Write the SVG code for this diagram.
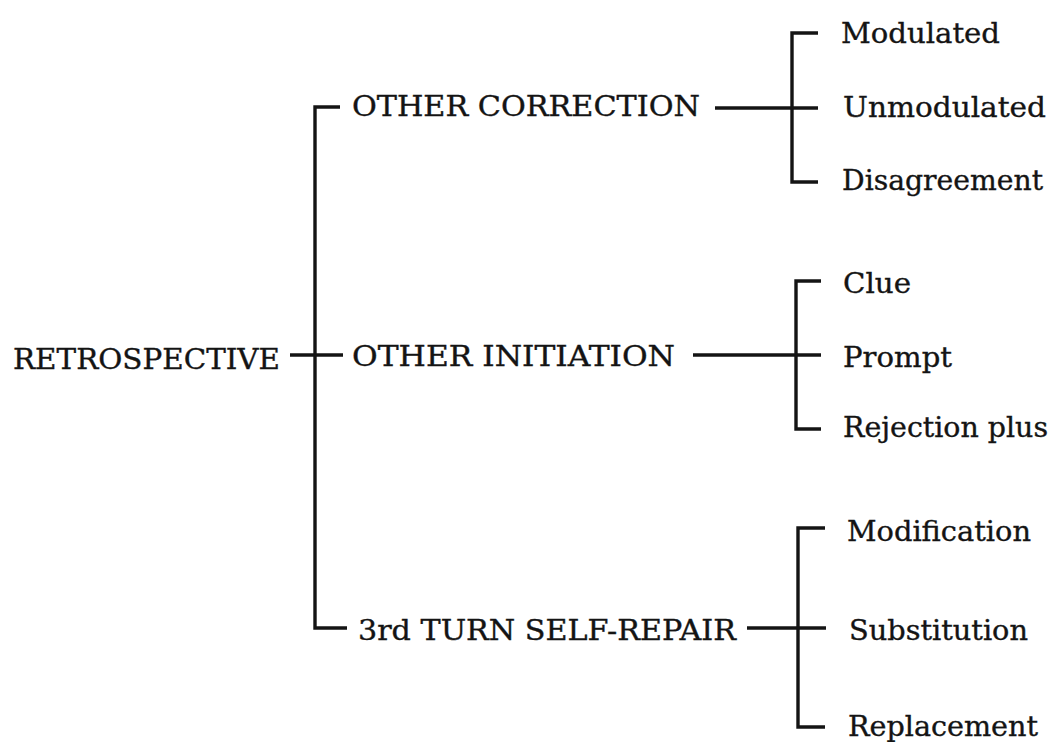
<svg xmlns="http://www.w3.org/2000/svg" width="1056" height="742" viewBox="0 0 1056 742">
<style>
text{font-family:"DejaVu Serif","Liberation Serif",serif;font-size:27.5px;fill:#141414;stroke:#141414;stroke-width:0.35}
.c{fill:none;stroke:#141414;stroke-width:3.4;stroke-linecap:butt;stroke-linejoin:miter}
</style>
<rect width="1056" height="742" fill="#fff"/>
<g id="connectors">
<path class="c" d="M340,107 H315 V628 H347"/>
<path class="c" d="M290,355 H343"/>
<path class="c" d="M715,108 H818"/>
<path class="c" d="M818,33 H792 V182 H818"/>
<path class="c" d="M693,355 H821"/>
<path class="c" d="M821,281 H796 V429 H821"/>
<path class="c" d="M747,628 H826"/>
<path class="c" d="M825,528 H798 V727 H825"/>
</g>
<g id="retrospective"><text x="13" y="369" textLength="267" lengthAdjust="spacingAndGlyphs">RETROSPECTIVE</text></g>
<g id="other-correction"><text x="352" y="116" textLength="348" lengthAdjust="spacingAndGlyphs">OTHER CORRECTION</text></g>
<g id="other-initiation"><text x="352" y="366" textLength="323" lengthAdjust="spacingAndGlyphs">OTHER INITIATION</text></g>
<g id="third-turn"><text x="358" y="640" textLength="378" lengthAdjust="spacingAndGlyphs">3rd TURN SELF-REPAIR</text></g>
<g id="modulated"><text x="841" y="43" textLength="159" lengthAdjust="spacingAndGlyphs">Modulated</text></g>
<g id="unmodulated"><text x="843" y="117" textLength="203" lengthAdjust="spacingAndGlyphs">Unmodulated</text></g>
<g id="disagreement"><text x="842" y="190" textLength="201" lengthAdjust="spacingAndGlyphs">Disagreement</text></g>
<g id="clue"><text x="843" y="293" textLength="68" lengthAdjust="spacingAndGlyphs">Clue</text></g>
<g id="prompt"><text x="843" y="367" textLength="109" lengthAdjust="spacingAndGlyphs">Prompt</text></g>
<g id="rejection-plus"><text x="843" y="437" textLength="205" lengthAdjust="spacingAndGlyphs">Rejection plus</text></g>
<g id="modification"><text x="847" y="541" textLength="184" lengthAdjust="spacingAndGlyphs">Modification</text></g>
<g id="substitution"><text x="849" y="640" textLength="179" lengthAdjust="spacingAndGlyphs">Substitution</text></g>
<g id="replacement"><text x="848" y="736" textLength="190" lengthAdjust="spacingAndGlyphs">Replacement</text></g>
</svg>
